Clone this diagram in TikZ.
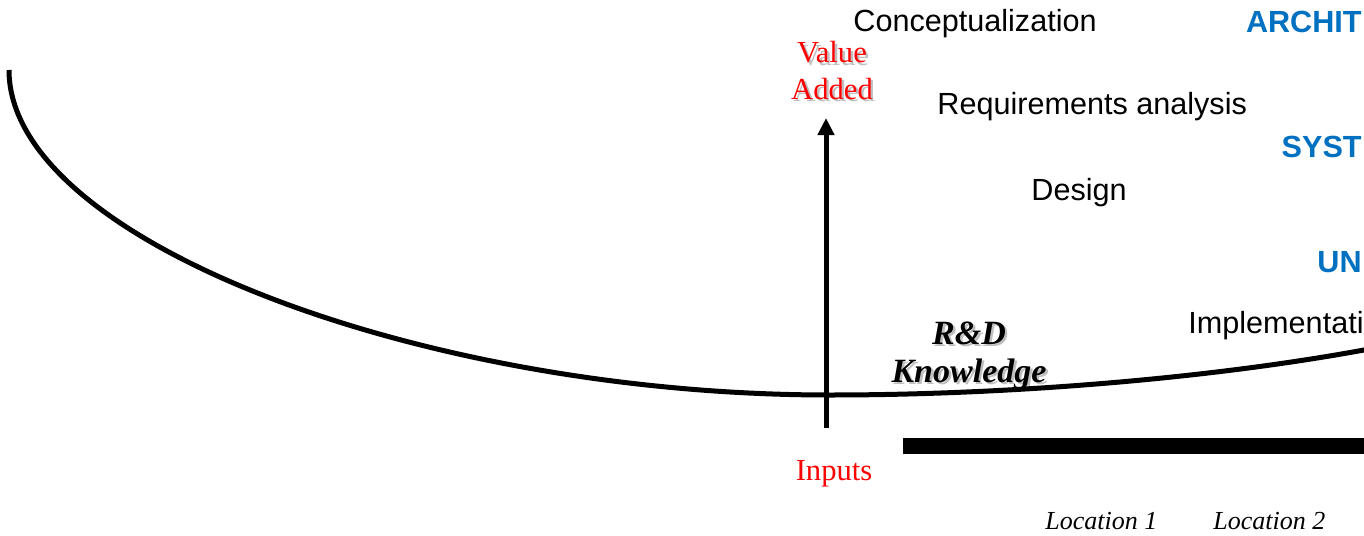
\documentclass[tikz,border=0pt]{standalone}
\usepackage{fontspec}
\setmainfont{Liberation Serif}
\setsansfont{Liberation Sans}
\usetikzlibrary{arrows.meta,positioning}
\definecolor{phaseblue}{HTML}{0070C0}
\definecolor{axisred}{HTML}{FF0000}
\newcommand{\shadowed}[1]{\makebox[0pt][l]{\hspace{1.2pt}\raisebox{-1.2pt}{\color{black!25}#1}}#1}

\begin{document}
\begin{tikzpicture}[x=0.5pt,y=-0.5pt,
    phase/.style={font=\fontsize{15.3}{18}\sffamily,anchor=base west,inner sep=0pt},
    level/.style={font=\fontsize{15.3}{18}\sffamily\bfseries,color=phaseblue,anchor=base east,inner sep=0pt},
    axislabel/.style={font=\fontsize{15.3}{18}\rmfamily,color=axisred,anchor=base,inner sep=0pt},
    know/.style={font=\fontsize{17}{20}\rmfamily\bfseries\itshape,anchor=base,inner sep=0pt},
    loc/.style={font=\fontsize{13}{16}\rmfamily\itshape,anchor=base west,inner sep=0pt},
    arr/.style={-{Triangle[length=8.5pt,width=8pt]},line width=2.5pt}
]
\useasboundingbox (0,0) rectangle (1364,535);
\clip (0,0) rectangle (1364,535);

\node[phase] (concept) at (853,32) {Conceptualization};
\node[phase] (reqs) at (937,115) {Requirements analysis};
\node[phase] (design) at (1031,200) {Design};
\node[phase] (impl) at (1188,333) {Implementati};

\node[level] (archlvl) at (1362,33) {ARCHIT};
\node[level] (syslvl) at (1362,157) {SYST};
\node[level] (unitlvl) at (1362,272) {UN};

\node[axislabel] (value) at (832,63) {\shadowed{Value}};
\node[axislabel] (added) at ([yshift=-18pt]value.base) {\shadowed{Added}};
\node[axislabel] (inputs) at (834,480) {Inputs};

\node[know] (rnd) at (969,344) {\shadowed{R\&D}};
\node[know] (knowledge) at ([yshift=-19pt]rnd.base) {\shadowed{Knowledge}};

\node[loc] (loc1) at (1045,529) {Location 1};
\node[loc] (loc2) at (1213,529) {Location 2};

\coordinate (arrbot) at (826,428);
\coordinate (arrtop) at (826,118);
\coordinate (barL) at (903,446);
\coordinate (barR) at (1380,446);

\draw[line width=2.5pt] (9,70) .. controls (9,240) and (420,395) .. (830,395)
    .. controls (1000,395) and (1200,380) .. (1364,350) -- (1384,345);
\draw[arr] (arrbot) -- (arrtop);
\draw[line width=8pt] (barL) -- (barR);
\end{tikzpicture}
\end{document}
